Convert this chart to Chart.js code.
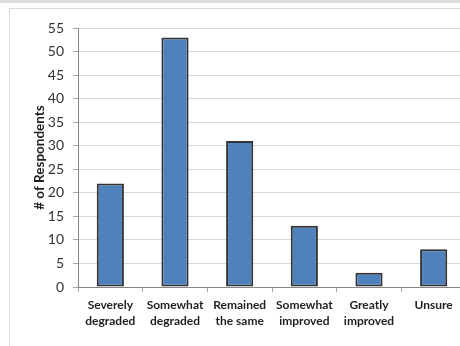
<!DOCTYPE html>
<html>
<head>
<meta charset="utf-8">
<script src="https://cdn.jsdelivr.net/npm/chart.js@4/dist/chart.umd.min.js"></script>
<style>
  html, body { margin: 0; padding: 0; background: #fff; overflow: hidden; width: 460px; height: 346px; }
  #band { position: absolute; left: 0; top: 0; width: 460px; height: 3px; background: #dcdcdc; }
  #frame { position: absolute; left: 9px; top: 8px; width: 470px; height: 360px; border: 1px solid #d9d9d9; box-sizing: border-box; }
  #wrap { position: absolute; left: 0; top: 0; width: 466px; height: 346px; }
</style>
</head>
<body>
<div id="band"></div>
<div id="frame"></div>
<div id="wrap"><canvas id="c" width="466" height="346"></canvas></div>
<script>
const categories = [
  ['Severely', 'degraded'],
  ['Somewhat', 'degraded'],
  ['Remained', 'the same'],
  ['Somewhat', 'improved'],
  ['Greatly', 'improved'],
  ['Unsure']
];
const respondents = [22, 53, 31, 13, 3, 8];
const yTicks = [0, 5, 10, 15, 20, 25, 30, 35, 40, 45, 50, 55];

new Chart(document.getElementById('c'), {
  type: 'bar',
  data: {
    labels: categories,
    datasets: [{
      data: respondents,
      backgroundColor: '#4F81BD',
      borderColor: '#333333',
      borderWidth: 2,
      borderSkipped: false,
      categoryPercentage: 1.0,
      barPercentage: 0.42
    }]
  },
  options: {
    responsive: false,
    animation: false,
    devicePixelRatio: 1,
    layout: { padding: { left: 0, top: 28, right: 0, bottom: 0 } },
    plugins: { legend: { display: false }, tooltip: { enabled: false } },
    scales: {
      x: {
        grid: { display: true, drawOnChartArea: false, tickLength: 5, color: '#a6a6a6', offset: true },
        border: { display: true, color: '#868686', width: 1 },
        ticks: {
          color: '#1f1f1f',
          font: { family: 'Lato', size: 12, weight: 'bold', lineHeight: 1.35 },
          padding: 5,
          maxRotation: 0,
          autoSkip: false
        },
        afterFit: (s) => { s.height = 59; }
      },
      y: {
        min: 0,
        max: 55,
        afterBuildTicks: (s) => { s.ticks = yTicks.map(v => ({ value: v })); },
        grid: { color: '#d9d9d9', lineWidth: 1, tickLength: 5, tickColor: '#a6a6a6' },
        border: { display: true, color: '#868686', width: 1 },
        ticks: {
          color: '#333333',
          font: { family: 'Lato', size: 14 },
          padding: 9
        },
        title: {
          display: true,
          text: '# of Respondents',
          color: '#1f1f1f',
          font: { family: 'Lato', size: 13.5, weight: 'bold', lineHeight: 1.2 },
          padding: { top: 32, bottom: 0 }
        },
        afterFit: (s) => { s.width = 78; }
      }
    }
  }
});
</script>
</body>
</html>
